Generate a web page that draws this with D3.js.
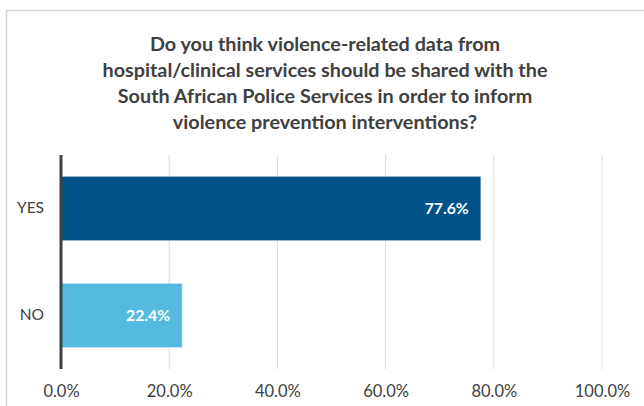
<!DOCTYPE html>
<html>
<head>
<meta charset="utf-8">
<script src="https://cdn.jsdelivr.net/npm/d3@7"></script>
<style>
  html, body { margin: 0; padding: 0; background: #fff; }
  svg { display: block; }
</style>
</head>
<body>
<svg id="chart" width="644" height="406"></svg>
<script>
const categories = ["YES", "NO"];
const values = [77.6, 22.4];
const colors = ["#005288", "#56b9e0"];
const tickValues = [0, 20, 40, 60, 80, 100];
const titleLines = [
  "Do you think violence-related data from",
  "hospital/clinical services should be shared with the",
  "South African Police Services in order to inform",
  "violence prevention interventions?"
];

const svg = d3.select("#chart");
const font = "Lato, 'Open Sans', sans-serif";

// frame
svg.append("rect")
  .attr("x", 6.5).attr("y", 10.5)
  .attr("width", 700).attr("height", 500)
  .attr("fill", "none").attr("stroke", "#d4d4d4").attr("stroke-width", 1.5);

// title
svg.append("g").selectAll("text").data(titleLines).join("text")
  .attr("x", 325).attr("y", (d, i) => 51 + i * 26)
  .attr("text-anchor", "middle")
  .attr("font-family", font).attr("font-weight", "bold")
  .attr("font-size", 19.8).attr("fill", "#404040")
  .text(d => d);

const x = d3.scaleLinear().domain([0, 100]).range([61, 602]);
const y = d3.scaleBand().domain(categories).range([155, 369]).paddingInner(0.4).paddingOuter(0.2);

// gridlines
svg.append("g").selectAll("line").data(tickValues.filter(t => t > 0)).join("line")
  .attr("x1", d => x(d)).attr("x2", d => x(d))
  .attr("y1", 155).attr("y2", 369)
  .attr("stroke", "#d9d9d9").attr("stroke-width", 1);

// bars
svg.append("g").selectAll("rect").data(values).join("rect")
  .attr("x", x(0)).attr("y", (d, i) => y(categories[i]))
  .attr("width", d => x(d) - x(0)).attr("height", y.bandwidth())
  .attr("fill", (d, i) => colors[i])
  .attr("stroke", "#ffffff").attr("stroke-opacity", 0.35).attr("stroke-width", 1);

// value labels
svg.append("g").selectAll("text").data(values).join("text")
  .attr("x", d => x(d) - 12)
  .attr("y", (d, i) => y(categories[i]) + y.bandwidth() / 2)
  .attr("dy", "0.35em")
  .attr("text-anchor", "end")
  .attr("font-family", font).attr("font-weight", "bold")
  .attr("font-size", 15.8).attr("fill", "#ffffff")
  .text(d => d.toFixed(1) + "%");

// x axis (labels only)
const xAxis = d3.axisBottom(x).tickValues(tickValues).tickSize(0).tickPadding(0)
  .tickFormat(d => d.toFixed(1) + "%");
const gx = svg.append("g").attr("transform", "translate(0,391)").call(xAxis);
gx.select(".domain").remove();
gx.selectAll("text").attr("dy", "0.35em")
  .attr("font-family", font).attr("font-size", 16.5).attr("fill", "#404040");

// y axis
const yAxis = d3.axisLeft(y).tickSize(0).tickPadding(17);
const gy = svg.append("g").attr("transform", `translate(${x(0)},0)`).call(yAxis);
gy.select(".domain").remove();
gy.selectAll("text").attr("font-family", font).attr("font-size", 15.5).attr("fill", "#404040");

// axis line
svg.append("line")
  .attr("x1", x(0)).attr("x2", x(0)).attr("y1", 155).attr("y2", 369)
  .attr("stroke", "#404040").attr("stroke-width", 3);
</script>
</body>
</html>
